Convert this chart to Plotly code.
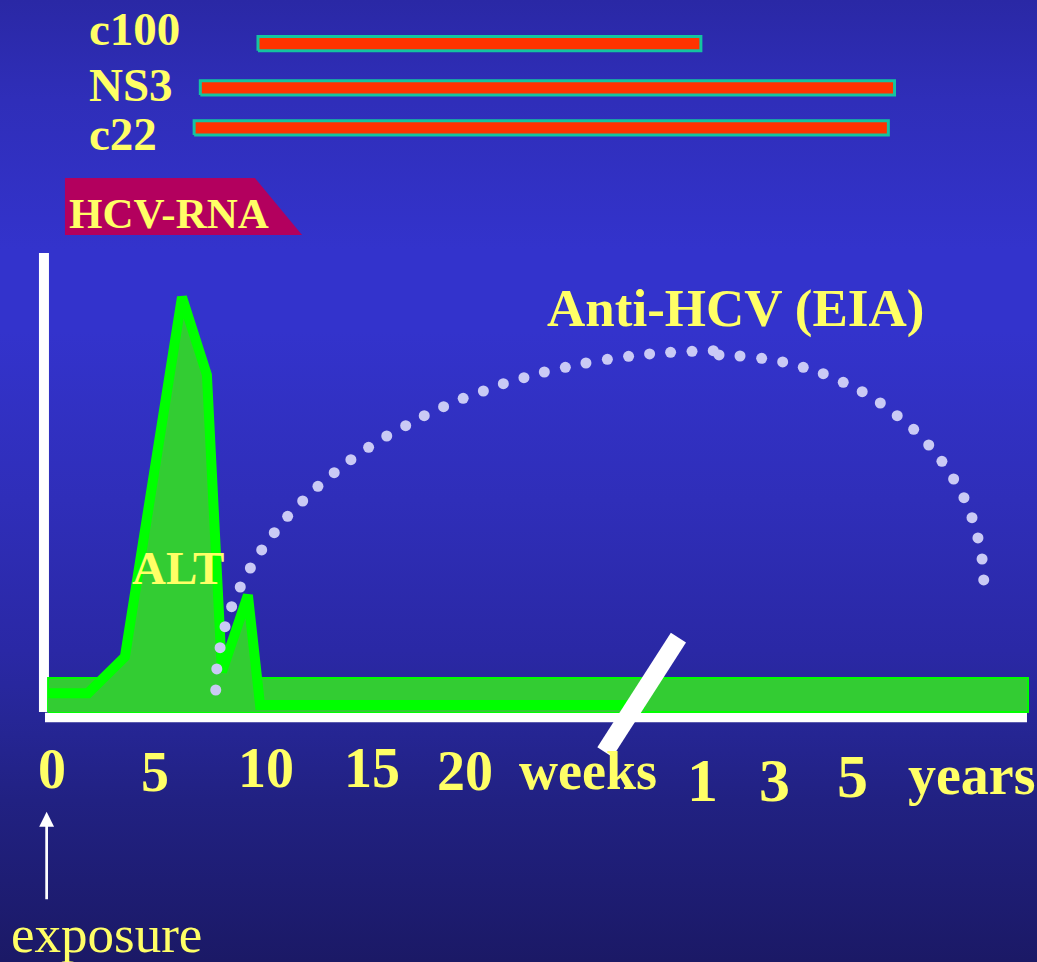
import plotly.graph_objects as go

# ---- timeline scale: x in weeks after exposure, y in relative level units ----
X_MIN, X_MAX = -2.524, 47.816
Y_MIN, Y_MAX = -54.35, 154.78

# antibody bands (start / end on the timeline)
antigen_names = ["c100", "NS3", "c22"]
antigen_rows = [145.3, 135.7, 127.0]
antibody_start = [10.0, 7.2, 6.9]
antibody_end = [31.5, 40.9, 40.6]
antigen_label_x = [1.70, 1.70, 1.70]
antigen_label_y = [148.4, 136.2, 125.7]
BAR_HALF = 1.55  # half bar thickness in level units

# HCV-RNA detection tab
rna_x = [0.63, 9.85, 12.14, 0.63, 0.63]
rna_y = [116.1, 116.1, 103.7, 103.7, 116.1]

# ALT level
alt_x = [-0.19, 1.75, 3.54, 6.31, 7.52, 8.25, 9.51, 10.10, 28.79]
alt_y = [4.1, 4.1, 12.0, 90.2, 73.3, 8.7, 25.4, 1.5, 1.5]

# persistent baseline band
band_x = [-0.19, 47.38, 47.38, -0.19, -0.19]
band_y = [0.0, 0.0, 7.4, 7.4, 0.0]

# Anti-HCV (EIA) course
eia_x = [7.95, 8.00, 8.16, 8.40, 8.72, 9.14, 9.63, 10.18, 10.79, 11.44,
         12.17, 12.91, 13.70, 14.51, 15.37, 16.25, 17.17, 18.07, 19.01, 19.96,
         20.94, 21.91, 22.91, 23.90, 24.92, 25.92, 26.96, 27.99, 29.01, 30.03,
         31.07, 32.10, 32.38, 33.40, 34.45, 35.47, 36.47, 37.44, 38.41, 39.33,
         40.21, 41.03, 41.83, 42.56, 43.20, 43.77, 44.27, 44.66, 44.95, 45.15,
         45.23]
eia_y = [4.78, 9.35, 13.98, 18.54, 22.89, 27.17, 31.30, 35.22, 38.98, 42.54,
         45.87, 49.07, 52.02, 54.85, 57.54, 60.00, 62.24, 64.41, 66.37, 68.20,
         69.78, 71.37, 72.67, 73.91, 74.93, 75.87, 76.67, 77.33, 77.83, 78.20,
         78.41, 78.54, 77.61, 77.39, 76.89, 76.09, 74.93, 73.54, 71.67, 69.63,
         67.17, 64.41, 61.46, 58.04, 54.50, 50.65, 46.59, 42.24, 37.83, 33.26,
         28.70]

# axes frame and the scale break
yaxis_line_x = [-0.39, -0.39]
yaxis_line_y = [0.0, 99.8]
xaxis_line_x = [-0.34, 47.33]
xaxis_line_y = [-1.2, -1.2]
break_x = [30.41, 26.84]
break_y = [16.15, -8.7]

# timeline labels
tick_labels = ["0", "5", "10", "15", "20", "weeks", "1", "3", "5", "years"]
tick_x = [0.0, 5.0, 10.39, 15.53, 20.05, 26.02, 31.6, 35.05, 38.88, 44.66]
tick_y = [-12.4, -13.15, -12.2, -12.2, -12.8, -12.8, -14.7, -14.8, -14.0, -13.6]
tick_size = [56, 56, 56, 56, 56, 54, 62, 62, 62, 56]

YELLOW = "#ffff66"
SERIF = "Liberation Serif"

fig = go.Figure()

# background gradient
fig.add_trace(go.Scatter(
    x=[X_MIN, X_MAX, X_MAX, X_MIN, X_MIN],
    y=[Y_MIN, Y_MIN, Y_MAX, Y_MAX, Y_MIN],
    mode="none", fill="toself",
    fillgradient=dict(
        type="vertical", start=Y_MIN, stop=Y_MAX,
        colorscale=[
            [0.0, "#1b1966"], [0.168, "#212182"], [0.252, "#262696"],
            [0.324, "#2a28a5"], [0.48, "#2f2eb9"], [0.657, "#3333cc"],
            [0.74, "#3333cc"], [0.896, "#2f2eb9"], [1.0, "#2a28a5"],
        ],
    ),
    hoverinfo="skip",
))

# antibody bars: one outlined rectangle per antigen
for row, s, e in zip(antigen_rows, antibody_start, antibody_end):
    fig.add_trace(go.Scatter(
        x=[s, e, e, s, s],
        y=[row - BAR_HALF, row - BAR_HALF, row + BAR_HALF, row + BAR_HALF, row - BAR_HALF],
        mode="lines", fill="toself", fillcolor="#ff3300",
        line=dict(color="#14c4a0", width=3),
        hoverinfo="skip",
    ))

# HCV-RNA tab
fig.add_trace(go.Scatter(
    x=rna_x, y=rna_y, mode="none", fill="toself", fillcolor="#b3005e",
    hoverinfo="skip",
))

# axis frame
fig.add_trace(go.Scatter(x=yaxis_line_x, y=yaxis_line_y, mode="lines",
                         line=dict(color="white", width=10), hoverinfo="skip"))
fig.add_trace(go.Scatter(x=xaxis_line_x, y=xaxis_line_y, mode="lines",
                         line=dict(color="white", width=9.5), hoverinfo="skip"))

# baseline band
fig.add_trace(go.Scatter(
    x=band_x, y=band_y, mode="lines", fill="toself", fillcolor="#33cc33",
    line=dict(color="#00ff00", width=2), hoverinfo="skip",
))

# ALT curve
fig.add_trace(go.Scatter(
    x=alt_x, y=alt_y, mode="lines", fill="tozeroy", fillcolor="#33cc33",
    line=dict(color="#00ff00", width=10), hoverinfo="skip",
))

# Anti-HCV dotted course
fig.add_trace(go.Scatter(
    x=eia_x, y=eia_y, mode="markers",
    marker=dict(size=11, color="#cacaf5", line=dict(width=0)),
    hoverinfo="skip",
))

# scale break
fig.add_trace(go.Scatter(x=break_x, y=break_y, mode="lines",
                         line=dict(color="white", width=18), hoverinfo="skip"))

annotations = []
for name, lx, ly in zip(antigen_names, antigen_label_x, antigen_label_y):
    annotations.append(dict(
        x=lx, y=ly, text=name, showarrow=False, xanchor="left", yanchor="middle",
        font=dict(family=SERIF, size=47, color=YELLOW, weight="bold"),
    ))
annotations.append(dict(
    x=0.73, y=108.3, text="HCV-RNA", showarrow=False, xanchor="left",
    yanchor="middle", font=dict(family=SERIF, size=43, color=YELLOW, weight="bold"),
))
annotations.append(dict(
    x=6.12, y=31.4, text="ALT", showarrow=False, xanchor="center",
    yanchor="middle", font=dict(family=SERIF, size=47, color=YELLOW, weight="bold"),
))
annotations.append(dict(
    x=33.2, y=87.8, text="Anti-HCV (EIA)", showarrow=False, xanchor="center",
    yanchor="middle", font=dict(family=SERIF, size=53, color=YELLOW, weight="bold"),
))
for lab, tx, ty, ts in zip(tick_labels, tick_x, tick_y, tick_size):
    annotations.append(dict(
        x=tx, y=ty, text=lab, showarrow=False, xanchor="center", yanchor="middle",
        font=dict(family=SERIF, size=ts, color=YELLOW, weight="bold"),
    ))
annotations.append(dict(
    x=2.65, y=-48.2, text="exposure", showarrow=False, xanchor="center",
    yanchor="middle", font=dict(family=SERIF, size=53, color=YELLOW),
))
# exposure arrow
annotations.append(dict(
    x=-0.26, y=-21.7, text="", showarrow=True, ax=0, ay=89,
    arrowhead=2, arrowsize=1.1, arrowwidth=2.7, arrowcolor="white", standoff=0,
))

fig.update_layout(
    width=1037, height=962,
    margin=dict(l=0, r=0, t=0, b=0, pad=0),
    paper_bgcolor="#2e2db8", plot_bgcolor="rgba(0,0,0,0)",
    showlegend=False,
    annotations=annotations,
    xaxis=dict(range=[X_MIN, X_MAX], visible=False, showgrid=False,
               zeroline=False, fixedrange=True),
    yaxis=dict(range=[Y_MIN, Y_MAX], visible=False, showgrid=False,
               zeroline=False, fixedrange=True),
    font=dict(family=SERIF),
)

fig.write_html("out.html")
